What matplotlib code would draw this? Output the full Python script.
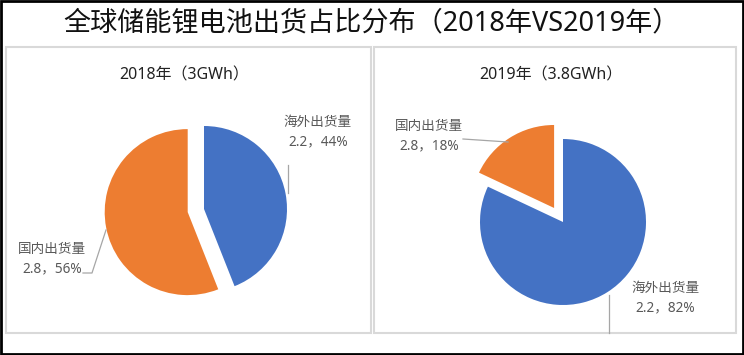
import matplotlib
matplotlib.use("Agg")
import matplotlib.pyplot as plt
from matplotlib.patches import Rectangle

# Latin glyphs from Noto Sans, Chinese ones fall back to the CJK family
plt.rcParams["font.family"] = ["Noto Sans", "Noto Sans CJK SC", "DejaVu Sans"]

title = "全球储能锂电池出货占比分布（2018年VS2019年）"
categories = ["海外出货量", "国内出货量"]

years = ["2018年（3GWh）", "2019年（3.8GWh）"]
shares_2018 = [44, 56]
volumes_2018 = [2.2, 2.8]
shares_2019 = [82, 18]
volumes_2019 = [2.2, 2.8]

colors = ["#4472C4", "#ED7D31"]
label_color = "#595959"

W, H = 744, 355
fig = plt.figure(figsize=(W / 100, H / 100), dpi=100)
# one axes in pixel units (y from bottom) so everything lines up with the reference
ax = fig.add_axes([0, 0, 1, 1])
ax.set_xlim(0, W)
ax.set_ylim(0, H)
ax.axis("off")

# outer frame and the two chart panels
ax.add_patch(Rectangle((1, 1), W - 2.5, H - 2, fill=False, edgecolor="black", lw=2))
ax.add_patch(Rectangle((6, 22), 365, 286, fill=False, edgecolor="#D9D9D9", lw=1.5))
ax.add_patch(Rectangle((374, 22), 362, 286, fill=False, edgecolor="#D9D9D9", lw=1.5))

ax.text(W / 2, 332, title, ha="center", va="center", fontsize=19.5, color="#111111")

radius = 83
pies = [
    # center, subtitle x, shares, volumes, label spots, leader lines
    dict(center=(204, 146), sub_x=184, shares=shares_2018, vols=volumes_2018,
         spots=[(318, 223), (52, 96)],
         leaders=[[(288, 190), (288, 162)], [(83, 82), (92, 82), (106, 125)]]),
    dict(center=(563, 133), sub_x=551, shares=shares_2019, vols=volumes_2019,
         spots=[(665, 57), (429, 219)],
         leaders=[[(609, 60), (609, 22)], [(463, 216), (508, 213)]]),
]

for year, p in zip(years, pies):
    ax.pie(p["shares"], colors=colors, startangle=90, counterclock=False,
           center=p["center"], radius=radius, explode=[0, 0.2 * radius],
           wedgeprops=dict(linewidth=0), frame=True)
    ax.text(p["sub_x"], 280, year, ha="center", va="center", fontsize=11.5, color="#222222")
    for cat, share, vol, (tx, ty) in zip(categories, p["shares"], p["vols"], p["spots"]):
        ax.text(tx, ty, f"{cat}\n{vol}，{share}%", ha="center", va="center",
                fontsize=9.8, color=label_color, linespacing=1.45)
    for line in p["leaders"]:
        xs, ys = zip(*line)
        ax.plot(xs, ys, color="#A6A6A6", lw=0.9)

# pie() resets limits/aspect, restore the pixel frame
ax.set_xlim(0, W)
ax.set_ylim(0, H)
ax.set_aspect("auto")
ax.axis("off")

fig.savefig("out.png", dpi=100)
